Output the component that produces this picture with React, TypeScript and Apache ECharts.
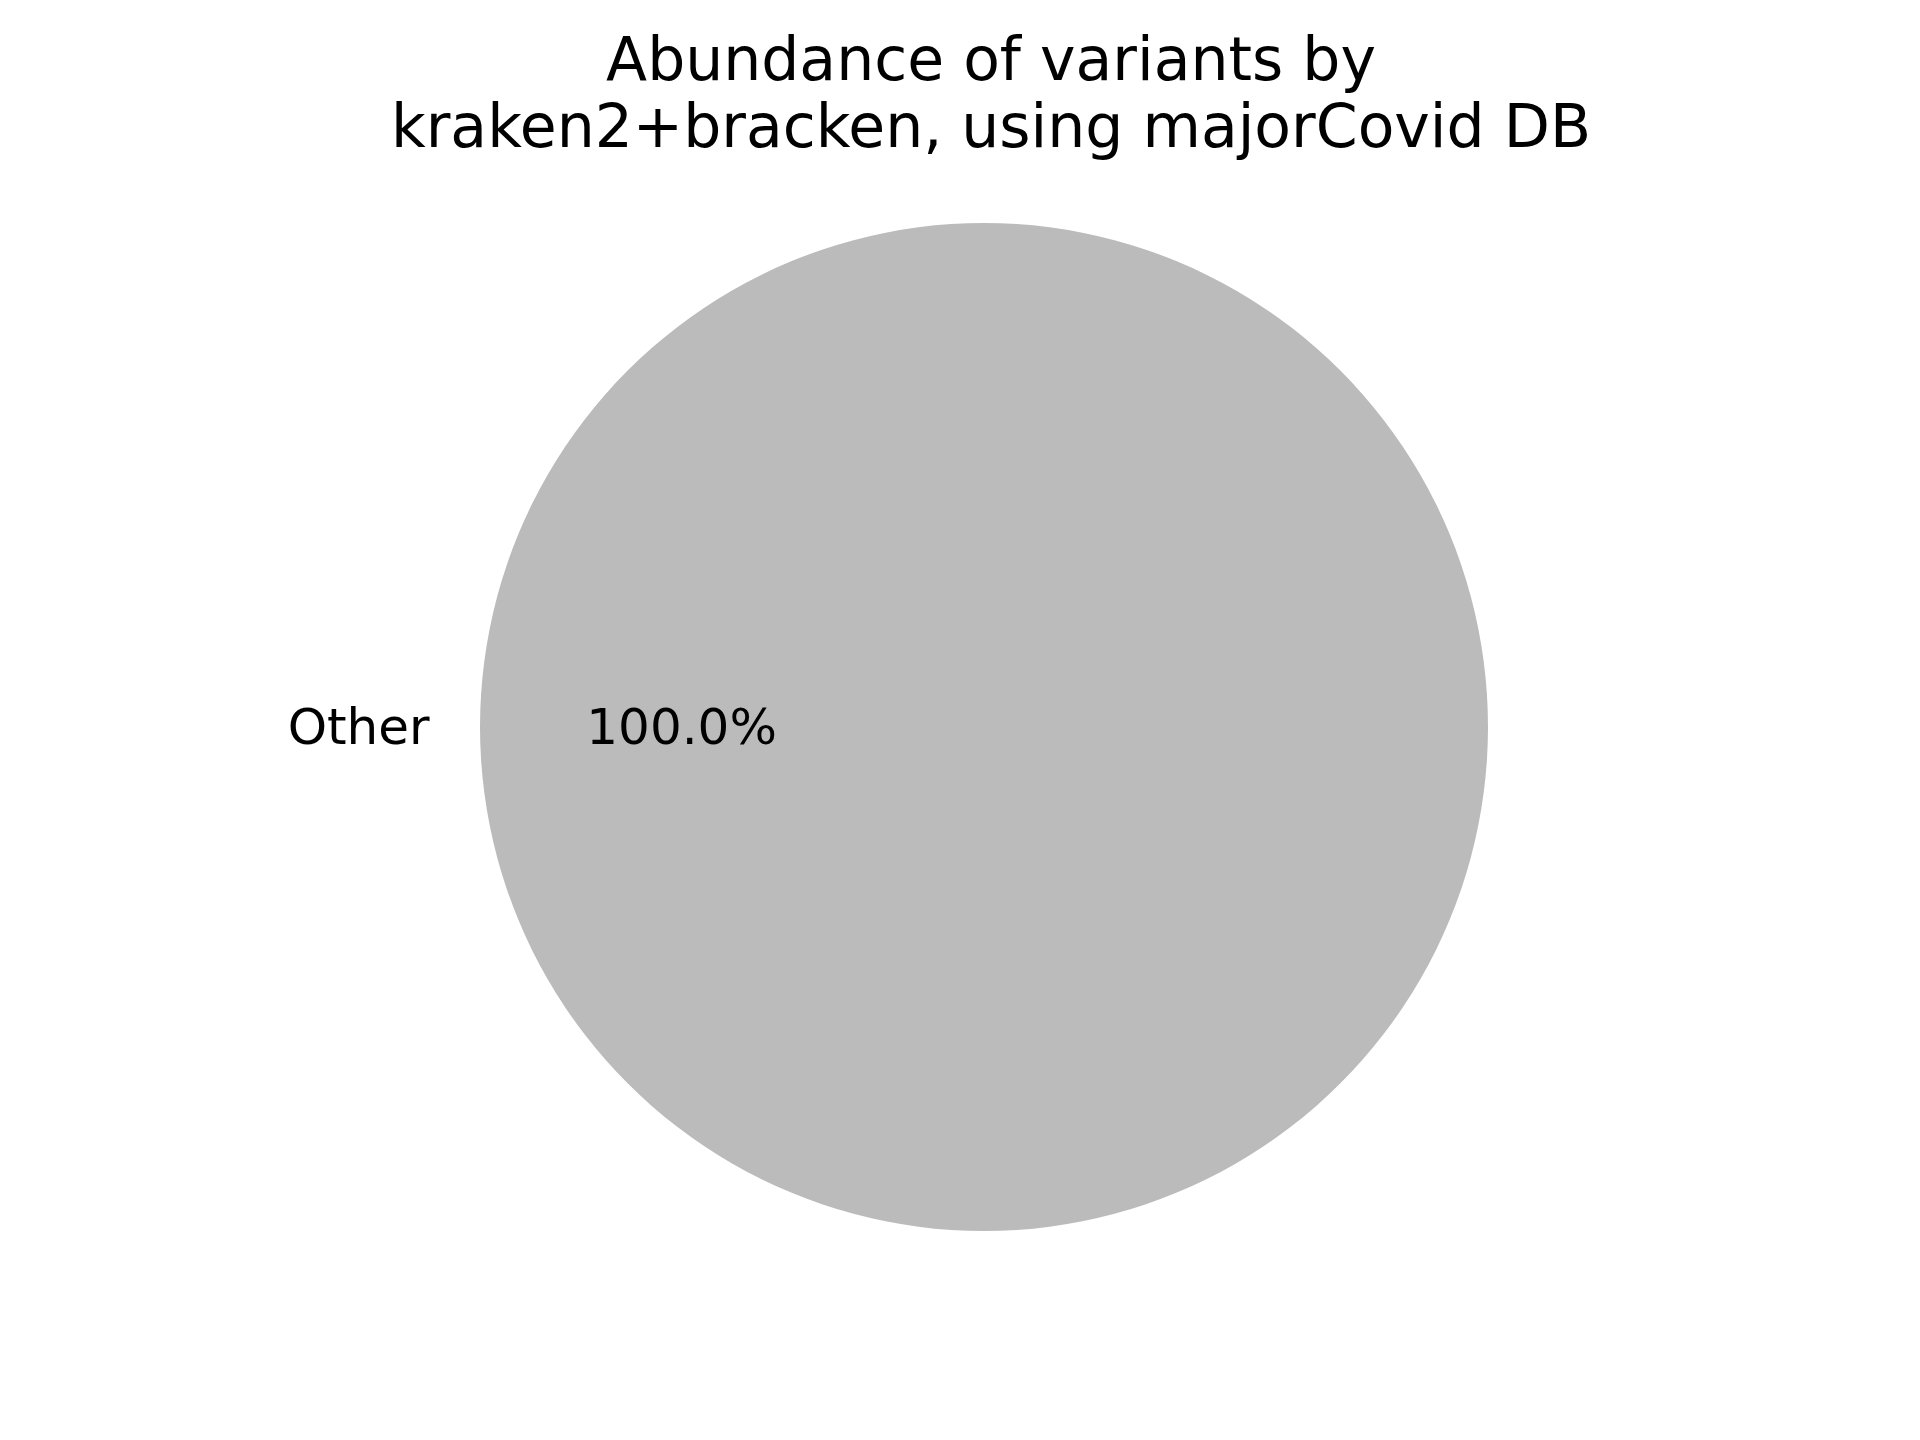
import React, { useEffect, useRef } from "react";
import * as echarts from "echarts";

const categories: string[] = ["Other"];
const values: number[] = [100];
const titleLines: string[] = ["Abundance of variants by", "kraken2+bracken, using majorCovid DB"];
const sliceColors: string[] = ["#bbbbbb"];

const FONT = "DejaVu Sans";
const CX = 984;
const CY = 727;
const R = 504;

export default function App() {
  const ref = useRef<HTMLDivElement>(null);
  useEffect(() => {
    document.body.style.margin = "0";
    if (!ref.current) return;
    const chart = echarts.init(ref.current, undefined, { renderer: "svg" });
    const data = categories.map((name, i) => ({ name, value: values[i] }));
    chart.setOption({
      animation: false,
      backgroundColor: "#ffffff",
      title: {
        text: titleLines.join("\n"),
        left: CX + 2,
        top: 20,
        textAlign: "center",
        textStyle: { fontFamily: FONT, fontSize: 60, fontWeight: "normal", color: "#000", lineHeight: 67 },
      },
      series: [
        {
          type: "pie",
          center: [CX, CY],
          radius: [0, R],
          startAngle: 0,
          clockwise: true,
          data: data.map((d, i) => ({ ...d, itemStyle: { color: sliceColors[i] } })),
          label: { show: false },
          labelLine: { show: false },
          silent: true,
        },
        {
          type: "pie",
          center: [CX, CY],
          radius: [0, R * 1.1],
          startAngle: 0,
          clockwise: true,
          data,
          itemStyle: { color: "rgba(0,0,0,0)", borderWidth: 0 },
          label: {
            show: true,
            position: "outside",
            formatter: "{b}",
            fontFamily: FONT,
            fontSize: 50,
            color: "#000",
            distanceToLabelLine: 0,
            padding: [0, 0, 10, 0],
          },
          labelLine: { show: false, length: 0, length2: 0 },
          silent: true,
        },
        {
          type: "pie",
          center: [CX, CY],
          radius: [0, R * 1.2],
          startAngle: 0,
          clockwise: true,
          data,
          itemStyle: { color: "rgba(0,0,0,0)", borderWidth: 0 },
          label: {
            show: true,
            position: "inside",
            formatter: (p: any) => p.percent.toFixed(1) + "%",
            fontFamily: FONT,
            fontSize: 50,
            color: "#000",
            padding: [0, 0, 10, 6],
          },
          labelLine: { show: false },
          silent: true,
        },
      ],
    });
    return () => chart.dispose();
  }, []);
  return <div ref={ref} style={{ width: 1920, height: 1440 }} />;
}
